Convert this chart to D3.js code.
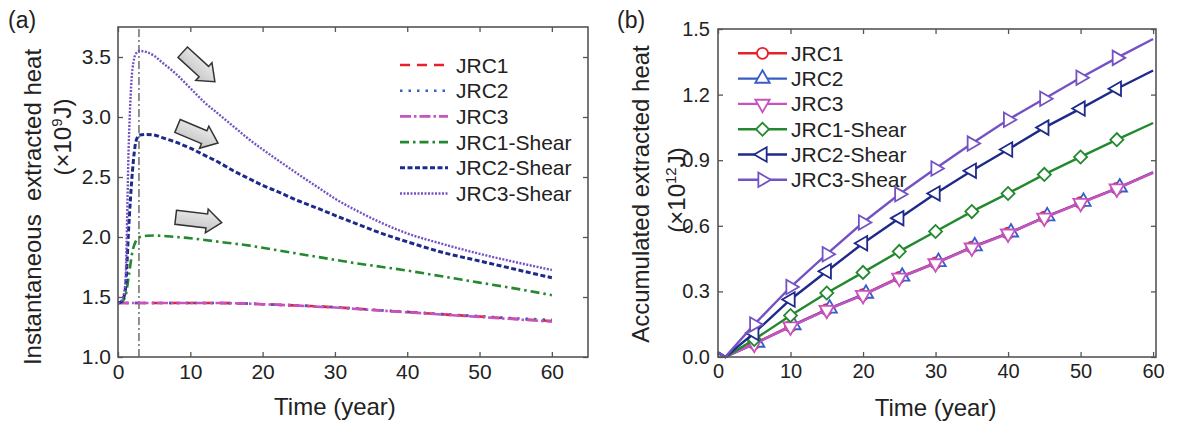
<!DOCTYPE html>
<html>
<head>
<meta charset="utf-8">
<script src="https://cdn.jsdelivr.net/npm/d3@7"></script>
<style>
  body { margin: 0; background: #fff; }
  svg { display: block; }
  text { font-family: 'Liberation Sans', Arial, sans-serif; fill: #222; }
</style>
</head>
<body>
<svg id="chart" width="1181" height="422"></svg>
<script>
// ---------- data, panel (a): instantaneous extracted heat (x10^9 J) ----------
var timeA = [0, 0.5, 1, 1.5, 2, 2.5, 3, 4, 5, 6, 8, 10, 12, 14, 16, 18, 20, 22, 25, 28, 30, 33, 36, 40, 45, 50, 55, 60]
var instJRC1 = [1.45, 1.45, 1.45, 1.45, 1.45, 1.45, 1.45, 1.45, 1.45, 1.45, 1.45, 1.45, 1.45, 1.45, 1.448, 1.445, 1.44, 1.435, 1.43, 1.42, 1.415, 1.403, 1.39, 1.375, 1.355, 1.337, 1.318, 1.30]
var instJRC2 = [1.45, 1.45, 1.45, 1.45, 1.45, 1.45, 1.45, 1.45, 1.45, 1.45, 1.45, 1.45, 1.45, 1.45, 1.448, 1.445, 1.44, 1.435, 1.43, 1.42, 1.415, 1.403, 1.39, 1.376, 1.357, 1.34, 1.322, 1.31]
var instJRC3 = [1.45, 1.45, 1.45, 1.45, 1.45, 1.45, 1.45, 1.45, 1.45, 1.45, 1.45, 1.45, 1.45, 1.45, 1.448, 1.445, 1.44, 1.435, 1.428, 1.418, 1.413, 1.4, 1.388, 1.373, 1.353, 1.334, 1.314, 1.295]
var instJRC1Shear = [1.45, 1.46, 1.5, 1.68, 1.88, 1.97, 2.0, 2.01, 2.012, 2.01, 2.0, 1.99, 1.975, 1.96, 1.945, 1.93, 1.91, 1.89, 1.86, 1.83, 1.81, 1.78, 1.755, 1.72, 1.67, 1.62, 1.57, 1.515]
var instJRC2Shear = [1.45, 1.46, 1.55, 2.1, 2.55, 2.8, 2.85, 2.855, 2.85, 2.83, 2.79, 2.74, 2.68, 2.62, 2.55, 2.49, 2.43, 2.38, 2.3, 2.23, 2.18, 2.11, 2.04, 1.96, 1.87, 1.8, 1.73, 1.66]
var instJRC3Shear = [1.45, 1.47, 1.6, 2.8, 3.4, 3.53, 3.55, 3.54, 3.51, 3.46, 3.36, 3.24, 3.12, 3.02, 2.92, 2.82, 2.73, 2.645, 2.52, 2.4, 2.32, 2.22, 2.13, 2.03, 1.94, 1.86, 1.79, 1.725]
var peakYear = 2.9
// arrows: [tailYear, tailValue, tipYear, tipValue]
var arrowsA = [[8.95, 3.54, 13.4, 3.294], [8.23, 2.925, 13.83, 2.783], [7.98, 2.164, 14.34, 2.119]]

// ---------- data, panel (b): accumulated extracted heat (x10^12 J) ----------
var timeB = [0, 1, 5, 10, 15, 20, 25, 30, 35, 40, 45, 50, 55, 60]
var timeB2 = [0, 1, 5.4, 10.4, 15.4, 20.4, 25.4, 30.4, 35.4, 40.4, 45.4, 50.4, 55.4, 60]
var accJRC1 = [0.02, 0, 0.062, 0.141, 0.217, 0.285, 0.364, 0.43, 0.502, 0.566, 0.639, 0.706, 0.771, 0.844]
var accJRC2 = [0.02, 0, 0.066, 0.146, 0.222, 0.29, 0.368, 0.435, 0.507, 0.57, 0.644, 0.71, 0.776, 0.845]
var accJRC3 = [0.02, 0, 0.06, 0.139, 0.215, 0.283, 0.362, 0.428, 0.5, 0.564, 0.637, 0.704, 0.77, 0.842]
var accJRC1Shear = [0.02, 0, 0.08, 0.19, 0.293, 0.387, 0.483, 0.574, 0.665, 0.748, 0.835, 0.915, 0.994, 1.07]
var accJRC2Shear = [0.02, 0, 0.11, 0.263, 0.392, 0.52, 0.635, 0.748, 0.852, 0.949, 1.049, 1.136, 1.227, 1.31]
var accJRC3Shear = [0.02, 0, 0.149, 0.32, 0.47, 0.615, 0.744, 0.862, 0.976, 1.085, 1.181, 1.277, 1.368, 1.454]

var seriesNames = ['JRC1', 'JRC2', 'JRC3', 'JRC1-Shear', 'JRC2-Shear', 'JRC3-Shear']
var ticksAX = [0, 10, 20, 30, 40, 50, 60]
var ticksAY = [1.0, 1.5, 2.0, 2.5, 3.0, 3.5]
var ticksBX = [0, 10, 20, 30, 40, 50, 60]
var ticksBY = [0.0, 0.3, 0.6, 0.9, 1.2, 1.5]

// ---------- styles ----------
var colors = ['#e8202a', '#3a5cc8', '#c653c0', '#23892f', '#1e2a8a', '#7452c4']
var dashes = ['10,7', '2.5,6', '11,3,2.5,3', '9,4,2.5,4', '5,2.5', '2,1.5']
var widthsA = [2.6, 2.6, 2.6, 2.6, 3, 2.4]
var frameColor = '#555'

var svg = d3.select('#chart')
svg.append('rect').attr('width', 1181).attr('height', 422).attr('fill', '#fff')

function drawFrame(x, y, ticksX, ticksY, fmtY, fontSize, padY) {
    var x0 = x.range()[0], x1 = x.range()[1], y0 = y.range()[0], y1 = y.range()[1]
    var g = svg.append('g')
    g.append('g').attr('transform', `translate(0,${y0})`)
        .call(d3.axisBottom(x).tickValues(ticksX).tickSizeInner(-5).tickSizeOuter(0).tickPadding(7).tickFormat(d3.format('d')))
    g.append('g').attr('transform', `translate(0,${y1})`)
        .call(d3.axisTop(x).tickValues(ticksX).tickSizeInner(-5).tickSizeOuter(0).tickFormat(''))
    g.append('g').attr('transform', `translate(${x0},0)`)
        .call(d3.axisLeft(y).tickValues(ticksY).tickSizeInner(-5).tickSizeOuter(0).tickPadding(padY).tickFormat(fmtY))
    g.append('g').attr('transform', `translate(${x1},0)`)
        .call(d3.axisRight(y).tickValues(ticksY).tickSizeInner(-5).tickSizeOuter(0).tickFormat(''))
    g.selectAll('.domain').remove()
    g.selectAll('.tick line').attr('stroke', frameColor).attr('stroke-width', 1.3)
    g.selectAll('.tick text').attr('font-size', fontSize).attr('fill', '#1a1a1a')
        .attr('font-family', "'Liberation Sans', Arial, sans-serif")
    g.append('rect').attr('x', x0).attr('y', y1).attr('width', x1 - x0).attr('height', y0 - y1)
        .attr('fill', 'none').attr('stroke', frameColor).attr('stroke-width', 1.6)
}

// ================= panel (a) =================
var xA = d3.scaleLinear().domain([0, 65]).range([118, 588])
var yA = d3.scaleLinear().domain([1.0, 3.75]).range([357, 27])

svg.append('line')
    .attr('x1', xA(peakYear)).attr('x2', xA(peakYear))
    .attr('y1', yA(1.0)).attr('y2', yA(3.75))
    .attr('stroke', '#555').attr('stroke-width', 1.3).attr('stroke-dasharray', '8,3,2,3')

var seriesA = [instJRC1, instJRC2, instJRC3, instJRC1Shear, instJRC2Shear, instJRC3Shear]
var lineA = d3.line().x(d => xA(d[0])).y(d => yA(d[1])).curve(d3.curveMonotoneX)
seriesA.forEach(function (vals, i) {
    var pts = timeA.map((t, j) => [t, vals[j]])
    svg.append('path').datum(pts)
        .attr('d', lineA)
        .attr('fill', 'none')
        .attr('stroke', colors[i])
        .attr('stroke-width', widthsA[i])
        .attr('stroke-dasharray', dashes[i])
})

// block arrows
var grad = svg.append('defs').append('linearGradient').attr('id', 'arrowGrad')
    .attr('x1', 0).attr('y1', 0).attr('x2', 0).attr('y2', 1)
grad.append('stop').attr('offset', '0%').attr('stop-color', '#ececec')
grad.append('stop').attr('offset', '100%').attr('stop-color', '#c4c4c4')
arrowsA.forEach(function (a) {
    var tx = xA(a[0]), ty = yA(a[1]), hx = xA(a[2]), hy = yA(a[3])
    var L = Math.hypot(hx - tx, hy - ty)
    var ang = Math.atan2(hy - ty, hx - tx) * 180 / Math.PI
    var sw = 7, hw = 12, hl = 15
    var poly = [[0, -sw], [L - hl, -sw], [L - hl, -hw], [L, 0], [L - hl, hw], [L - hl, sw], [0, sw]]
    svg.append('polygon')
        .attr('points', poly.map(p => p.join(',')).join(' '))
        .attr('transform', `translate(${tx},${ty}) rotate(${ang})`)
        .attr('fill', 'url(#arrowGrad)')
        .attr('stroke', '#333').attr('stroke-width', 1.5).attr('stroke-linejoin', 'miter')
})

drawFrame(xA, yA, ticksAX, ticksAY, d3.format('.1f'), 21, 7)

// legend (a)
seriesNames.forEach(function (name, i) {
    var ly = 65 + i * 25.7
    svg.append('line').attr('x1', 400).attr('x2', 448).attr('y1', ly).attr('y2', ly)
        .attr('stroke', colors[i]).attr('stroke-width', widthsA[i]).attr('stroke-dasharray', dashes[i])
    svg.append('text').attr('x', 456).attr('y', ly).attr('dy', '0.36em')
        .attr('font-size', 21).text(name)
})

// titles (a)
svg.append('text').attr('x', 8).attr('y', 28).attr('font-size', 23).text('(a)')
svg.append('text').attr('x', xA(30)).attr('y', 415).attr('text-anchor', 'middle')
    .attr('font-size', 24).text('Time (year)')
svg.append('text').attr('transform', 'translate(32,207) rotate(-90)')
    .attr('text-anchor', 'middle').attr('dy', '0.36em').attr('font-size', 24)
    .style('white-space', 'pre').text('Instantaneous  extracted heat')
var subA = svg.append('text').attr('transform', 'translate(62,137) rotate(-90)')
    .attr('text-anchor', 'middle').attr('dy', '0.36em').attr('font-size', 24)
subA.append('tspan').text('(\u00d710')
subA.append('tspan').attr('dy', -9).attr('font-size', 15).text('9')
subA.append('tspan').attr('dy', 9).text('J)')

// ================= panel (b) =================
var xB = d3.scaleLinear().domain([0, 60.4]).range([718, 1156])
var yB = d3.scaleLinear().domain([0, 1.5]).range([357, 29])

var seriesB = [[timeB, accJRC1], [timeB2, accJRC2], [timeB, accJRC3], [timeB, accJRC1Shear], [timeB, accJRC2Shear], [timeB, accJRC3Shear]]
var lineB = d3.line().x(d => xB(d[0])).y(d => yB(d[1]))

// marker shapes: [symbol, size, rotation]
var markers = [[d3.symbolCircle, 95, 0], [d3.symbolTriangle, 90, 0], [d3.symbolTriangle, 90, 180],
    [d3.symbolSquare, 85, 45], [d3.symbolTriangle, 90, -90], [d3.symbolTriangle, 90, 90]]

function drawMarker(cx, cy, i) {
    var m = markers[i]
    svg.append('path')
        .attr('d', d3.symbol().type(m[0]).size(m[1])())
        .attr('transform', `translate(${cx},${cy}) rotate(${m[2]})`)
        .attr('fill', '#fff').attr('stroke', colors[i]).attr('stroke-width', 1.8)
}

seriesB.forEach(function (s, i) {
    var pts = s[0].map((t, j) => [t, s[1][j]])
    svg.append('path').datum(pts)
        .attr('d', lineB)
        .attr('fill', 'none')
        .attr('stroke', colors[i])
        .attr('stroke-width', 2.4)
    pts.slice(2, pts.length - 1).forEach(function (p) {
        drawMarker(xB(p[0]), yB(p[1]), i)
    })
})

drawFrame(xB, yB, ticksBX, ticksBY, d3.format('.1f'), 20, 8)

// legend (b)
seriesNames.forEach(function (name, i) {
    var ly = 53.3 + i * 25.3
    svg.append('line').attr('x1', 738).attr('x2', 787).attr('y1', ly).attr('y2', ly)
        .attr('stroke', colors[i]).attr('stroke-width', 2.4)
    drawMarker(762.5, ly, i)
    svg.append('text').attr('x', 791).attr('y', ly).attr('dy', '0.36em')
        .attr('font-size', 21).text(name)
})

// titles (b)
svg.append('text').attr('x', 617).attr('y', 28).attr('font-size', 23).text('(b)')
svg.append('text').attr('x', xB(30)).attr('y', 416).attr('text-anchor', 'middle')
    .attr('font-size', 24).text('Time (year)')
svg.append('text').attr('transform', 'translate(640,194) rotate(-90)')
    .attr('text-anchor', 'middle').attr('dy', '0.36em').attr('font-size', 24)
    .text('Accumulated extracted heat')
var subB = svg.append('text').attr('transform', 'translate(676,190) rotate(-90)')
    .attr('text-anchor', 'middle').attr('dy', '0.36em').attr('font-size', 24)
subB.append('tspan').text('(\u00d710')
subB.append('tspan').attr('dy', -9).attr('font-size', 15).text('12')
subB.append('tspan').attr('dy', 9).text('J)')
</script>
</body>
</html>
